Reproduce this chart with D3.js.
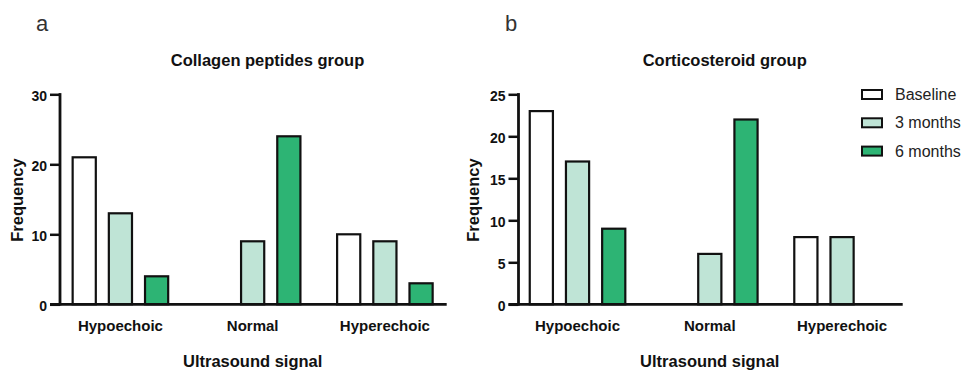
<!DOCTYPE html>
<html>
<head>
<meta charset="utf-8">
<script src="https://cdn.jsdelivr.net/npm/d3@7"></script>
<style>
  body { margin: 0; background: #fff; }
  text { font-family: "Liberation Sans", Arial, sans-serif; fill: #111; }
</style>
</head>
<body>
<div id="graphic_area"></div>
<script>
// categories + series
var categories = ["Hypoechoic", "Normal", "Hyperechoic"];
var seriesNames = ["Baseline", "3 months", "6 months"];
var seriesColors = ["#ffffff", "#bfe4d6", "#2db474"];

// panel a - collagen peptides
var collagenBaseline = [21, 0, 10];
var collagen3m = [13, 9, 9];
var collagen6m = [4, 24, 3];
var collagenTicks = [0, 10, 20, 30];

// panel b - corticosteroid
var corticoBaseline = [23, 0, 8];
var cortico3m = [17, 6, 8];
var cortico6m = [9, 22, 0];
var corticoTicks = [0, 5, 10, 15, 20, 25];

var width = 963;
var height = 370;

var svg = d3.select("#graphic_area").append("svg")
    .attr("width", width)
    .attr("height", height);

function drawPanel(opts) {
  var g = svg.append("g");

  var x0 = d3.scaleBand()
      .domain(categories)
      .range([opts.left, opts.right])
      .paddingInner(0.179)
      .paddingOuter(0.0895);

  var x1 = d3.scaleBand()
      .domain(seriesNames)
      .range([0, x0.bandwidth()])
      .paddingInner(0.36)
      .paddingOuter(0.18);

  var y = d3.scaleLinear()
      .domain([0, opts.yMax])
      .range([304.3, 94.3]);

  // flatten series into rows for the bars
  var rows = [];
  categories.forEach(function(c, i) {
    opts.series.forEach(function(s, j) {
      rows.push({cat: c, name: seriesNames[j], value: s[i], color: seriesColors[j]});
    });
  });

  g.selectAll("rect.bar")
    .data(rows.filter(function(d) { return d.value > 0; }))
    .enter().append("rect")
      .attr("class", "bar")
      .attr("x", function(d) { return x0(d.cat) + x1(d.name); })
      .attr("width", x1.bandwidth())
      .attr("y", function(d) { return y(d.value); })
      .attr("height", function(d) { return y(0) - y(d.value); })
      .attr("fill", function(d) { return d.color; })
      .attr("stroke", "#111")
      .attr("stroke-width", 2.2);

  // y axis
  var yAxis = g.append("g")
      .attr("transform", "translate(" + opts.axisX + ",0)")
      .call(d3.axisLeft(y).tickValues(opts.ticks).tickSize(10).tickPadding(3));
  yAxis.select(".domain").remove();
  yAxis.selectAll("line").attr("stroke", "#111").attr("stroke-width", 2.5);
  yAxis.selectAll("text")
      .attr("font-family", "Liberation Sans, Arial, sans-serif")
      .attr("font-size", 14)
      .attr("font-weight", "bold")
      .attr("dy", "0.45em")
      .style("fill", "#111");
  g.append("line")
      .attr("x1", opts.axisX).attr("x2", opts.axisX)
      .attr("y1", y(opts.yMax) - 1.2).attr("y2", y(0) + 1.2)
      .attr("stroke", "#111").attr("stroke-width", 2.8);

  // x axis line (no ticks)
  g.append("line")
      .attr("x1", opts.axisX - 10).attr("x2", opts.axisEnd)
      .attr("y1", y(0)).attr("y2", y(0))
      .attr("stroke", "#111").attr("stroke-width", 2.8);

  g.selectAll("text.cat")
    .data(categories)
    .enter().append("text")
      .attr("class", "cat")
      .attr("x", function(d) { return x0(d) + x0.bandwidth() / 2; })
      .attr("y", 331)
      .attr("text-anchor", "middle")
      .attr("font-size", 15)
      .attr("font-weight", "bold")
      .text(function(d) { return d; });

  // titles
  g.append("text")
      .attr("x", opts.titleX).attr("y", 66)
      .attr("text-anchor", "middle")
      .attr("font-size", 16.5).attr("font-weight", "bold")
      .text(opts.title);

  g.append("text")
      .attr("x", (opts.left + opts.right) / 2).attr("y", 367)
      .attr("text-anchor", "middle")
      .attr("font-size", 16.5).attr("font-weight", "bold")
      .text("Ultrasound signal");

  g.append("text")
      .attr("transform", "translate(" + opts.yLabelX + "," + 200 + ") rotate(-90)")
      .attr("text-anchor", "middle")
      .attr("font-size", 16.5).attr("font-weight", "bold")
      .text("Frequency");

  g.append("text")
      .attr("x", opts.letterX).attr("y", 31)
      .attr("font-size", 22)
      .style("fill", "#333")
      .text(opts.letter);
}

drawPanel({
  series: [collagenBaseline, collagen3m, collagen6m],
  ticks: collagenTicks, yMax: 30,
  left: 54.3, right: 451, axisX: 60, axisEnd: 446.7,
  title: "Collagen peptides group", titleX: 267.5,
  yLabelX: 23, letter: "a", letterX: 36
});

drawPanel({
  series: [corticoBaseline, cortico3m, cortico6m],
  ticks: corticoTicks, yMax: 25,
  left: 511.4, right: 908.2, axisX: 518.5, axisEnd: 902.7,
  title: "Corticosteroid group", titleX: 724.7,
  yLabelX: 479, letter: "b", letterX: 505
});

// legend
var legend = svg.append("g").attr("transform", "translate(862,90)");
var legendRows = legend.selectAll("g")
  .data(seriesNames)
  .enter().append("g")
    .attr("transform", function(d, i) { return "translate(0," + i * 28.3 + ")"; });
legendRows.append("rect")
    .attr("width", 20).attr("height", 9)
    .attr("fill", function(d, i) { return seriesColors[i]; })
    .attr("stroke", "#111").attr("stroke-width", 2);
legendRows.append("text")
    .attr("x", 33).attr("y", 10)
    .attr("font-size", 16)
    .style("fill", "#222")
    .text(function(d) { return d; });
</script>
</body>
</html>
